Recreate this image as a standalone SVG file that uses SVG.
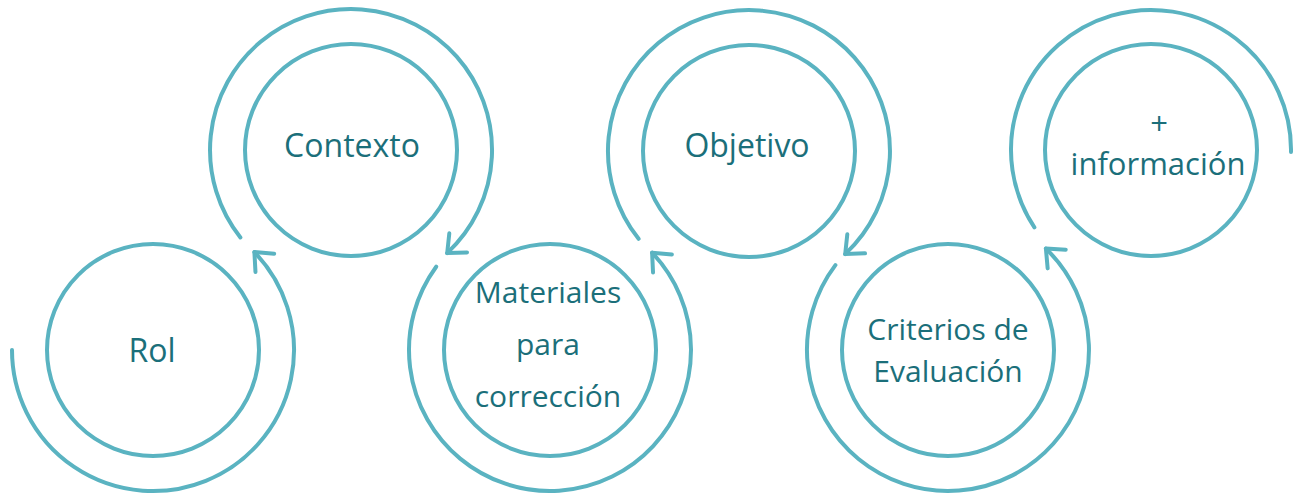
<svg xmlns="http://www.w3.org/2000/svg" width="1296" height="496" viewBox="0 0 1296 496">
<style>
.c{fill:none;stroke:#5ab3c1;stroke-width:4;}
.a{fill:none;stroke:#5ab3c1;stroke-width:4;stroke-linecap:round;}
.t{font-family:"Open Sans","Liberation Sans",sans-serif;fill:#1b6f7a;text-anchor:middle;}
</style>
<defs>
<marker id="arr" markerUnits="userSpaceOnUse" markerWidth="40" markerHeight="40" viewBox="-20 -20 40 40" refX="0" refY="0" orient="auto">
<path d="M-15,-13 L0,0 L-15,13" fill="none" stroke="#5ab3c1" stroke-width="4" stroke-linecap="round" stroke-linejoin="round"/>
</marker>
</defs>
<rect width="1296" height="496" fill="#ffffff"/>
<g id="connectors">
<path class="a" d="M12,350 A141,141 0 1 0 254.4,252.1" marker-end="url(#arr)"/>
<path class="a" d="M240.4,237.4 A141,141 0 1 1 447.2,253.1" marker-end="url(#arr)"/>
<path class="a" d="M436.2,266.7 A141,141 0 1 0 652.1,252.7" marker-end="url(#arr)"/>
<path class="a" d="M638.6,238.8 A141,141 0 1 1 845.2,254.1" marker-end="url(#arr)"/>
<path class="a" d="M835.4,265.1 A141,141 0 1 0 1045.9,248.6" marker-end="url(#arr)"/>
<path class="a" d="M1034.4,227.4 A140,140 0 1 1 1291,152"/>
</g>
<g id="rol">
<circle class="c" cx="153" cy="350" r="106"/>
<text class="t" x="152" y="362" font-size="32">Rol</text>
</g>
<g id="contexto">
<circle class="c" cx="351" cy="150" r="106"/>
<text class="t" x="352" y="157" font-size="32">Contexto</text>
</g>
<g id="materiales">
<circle class="c" cx="550" cy="350" r="106"/>
<text class="t" x="548" y="303" font-size="30">Materiales</text>
<text class="t" x="548" y="355" font-size="30">para</text>
<text class="t" x="548" y="407" font-size="30">corrección</text>
</g>
<g id="objetivo">
<circle class="c" cx="749" cy="151" r="106"/>
<text class="t" x="747" y="157" font-size="32">Objetivo</text>
</g>
<g id="criterios">
<circle class="c" cx="948" cy="350" r="106"/>
<text class="t" x="948" y="340" font-size="30">Criterios de</text>
<text class="t" x="948" y="382" font-size="30">Evaluación</text>
</g>
<g id="informacion">
<circle class="c" cx="1151" cy="150" r="106"/>
<text class="t" x="1159" y="135" font-size="31">+</text>
<text class="t" x="1158" y="175" font-size="31">información</text>
</g>
</svg>
